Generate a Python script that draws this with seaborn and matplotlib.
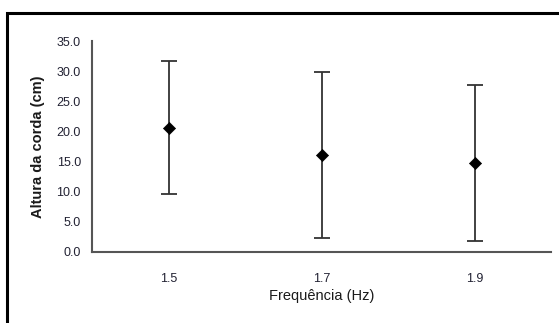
import matplotlib
matplotlib.use("Agg")
import matplotlib.pyplot as plt
from matplotlib.patches import Rectangle
import seaborn as sns
import pandas as pd
import numpy as np

categories = ["1.5", "1.7", "1.9"]
heights = [20.6, 16.1, 14.8]
errors = [11.0, 13.7, 12.9]
y_ticks = [0, 5, 10, 15, 20, 25, 30, 35]

sns.set_style("white")
plt.rcParams['font.family'] = ['Liberation Sans', 'DejaVu Sans']

df = pd.DataFrame({"freq": categories, "altura": heights, "err": errors})
df["pos"] = np.arange(len(categories))

fig = plt.figure(figsize=(5.59, 3.23), dpi=100)
ax = fig.add_axes([92/559, 1-252/323, (551-92)/559, (252-41)/323])

ax.errorbar(df["pos"], df["altura"], yerr=df["err"], fmt="none",
            ecolor="#333333", elinewidth=1.3, capsize=5.5, capthick=1.3, zorder=2)
sns.scatterplot(data=df, x="pos", y="altura", marker="D", s=38, color="black",
                edgecolor="black", linewidth=0.5, ax=ax, zorder=3, legend=False)

ax.set_xlim(-0.5, len(categories) - 0.5)
ax.set_ylim(0, 35)
ax.set_yticks(y_ticks)
ax.set_yticklabels([f"{v:.1f}" for v in y_ticks], fontsize=9, color="#222233")
ax.set_xticks(df["pos"])
ax.set_xticklabels(categories, fontsize=9, color="#222233")
ax.set_xticks(np.arange(len(categories) + 1) - 0.5, minor=True)
ax.tick_params(axis="x", which="major", length=0, pad=15)
ax.tick_params(axis="x", which="minor", length=4, width=1, color="#333333", direction="out")
ax.tick_params(axis="y", which="major", length=3, width=1, color="#333333", direction="out", pad=5)

for side in ["top", "right"]:
    ax.spines[side].set_visible(False)
for side in ["left", "bottom"]:
    ax.spines[side].set_visible(True)
    ax.spines[side].set_color("#555555")
    ax.spines[side].set_linewidth(1.5)

ax.set_xlabel("Frequência (Hz)", fontsize=10.5, color="#1a1a1a", labelpad=3)
ax.set_ylabel("Altura da corda (cm)", fontsize=10.5, fontweight="bold", color="#1a1a1a", labelpad=8)

top = 1 - 12.5/323
border = Rectangle((6.5/559, -0.2), 2.0, top + 0.2, transform=fig.transFigure,
                   fill=False, edgecolor="black", linewidth=2.2, clip_on=False)
fig.patches.append(border)

fig.savefig("out.png", dpi=100)
